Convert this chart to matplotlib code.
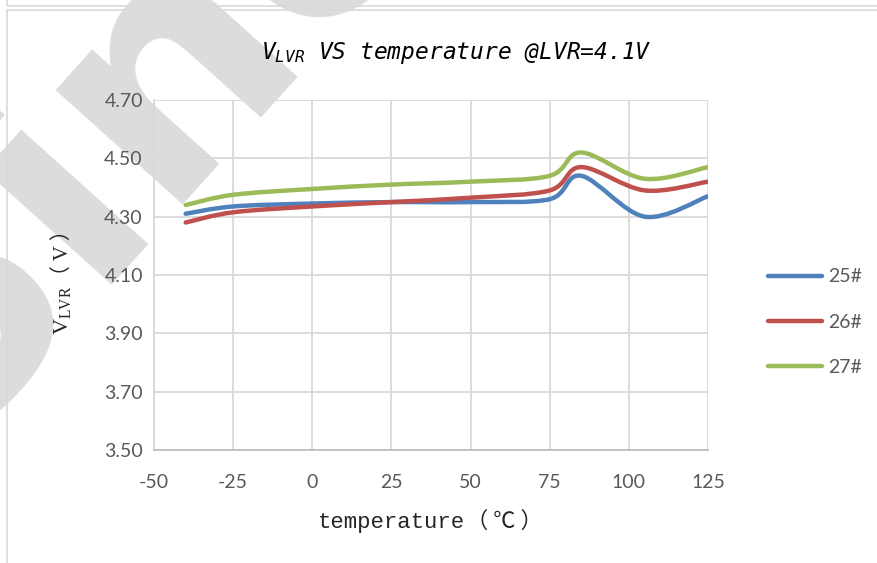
import matplotlib
matplotlib.use("Agg")
import matplotlib.pyplot as plt
from matplotlib.path import Path
from matplotlib.patches import PathPatch, Rectangle
from matplotlib.lines import Line2D

# data
temps = [-40, -25, 0, 25, 50, 75, 85, 105, 125]
v25 = [4.31, 4.335, 4.345, 4.35, 4.35, 4.36, 4.44, 4.30, 4.37]
v26 = [4.28, 4.315, 4.335, 4.35, 4.365, 4.39, 4.47, 4.39, 4.42]
v27 = [4.34, 4.375, 4.395, 4.41, 4.42, 4.44, 4.52, 4.43, 4.47]
names = ['25#', '26#', '27#']
colors = ['#4f81bd', '#c0504d', '#9bbb59']
xticks = [-50, -25, 0, 25, 50, 75, 100, 125]
yticks = [3.50, 3.70, 3.90, 4.10, 4.30, 4.50, 4.70]

plt.rcParams['mathtext.fontset'] = 'custom'
plt.rcParams['mathtext.it'] = 'DejaVu Sans Mono:oblique'
plt.rcParams['mathtext.rm'] = 'Liberation Serif'
plt.rcParams['axes.unicode_minus'] = False

TICK = '#595959'
GRID = '#d9d9d9'
LABEL = '#262626'


def smooth_path(x, y):
    # excel style smoothed line: catmull-rom segments as cubic beziers
    verts = [(x[0], y[0])]
    codes = [Path.MOVETO]
    n = len(x)
    for i in range(n - 1):
        x0, y0 = (x[i - 1], y[i - 1]) if i > 0 else (x[i], y[i])
        x3, y3 = (x[i + 2], y[i + 2]) if i + 2 < n else (x[i + 1], y[i + 1])
        c1 = (x[i] + (x[i + 1] - x0) / 6, y[i] + (y[i + 1] - y0) / 6)
        c2 = (x[i + 1] - (x3 - x[i]) / 6, y[i + 1] - (y3 - y[i]) / 6)
        verts += [c1, c2, (x[i + 1], y[i + 1])]
        codes += [Path.CURVE4] * 3
    return Path(verts, codes)


fig = plt.figure(figsize=(8.77, 5.63), dpi=100)
W, H = 877, 563

# watermark behind the chart
fig.text(130 / W, 1 - 110 / H, 'Sino', rotation=48, fontsize=225, fontweight='bold',
         family='DejaVu Sans', color='#dcdcdc', ha='center', va='center',
         zorder=-5)

# chart frames
fig.add_artist(Rectangle((7 / W, 1 - 6 / H), 1.0, 0.1, transform=fig.transFigure,
                         fill=False, ec=GRID, lw=1.2, zorder=-4))
fig.add_artist(Rectangle((7 / W, -0.1), 1.0, 1 - 10 / H + 0.1, transform=fig.transFigure,
                         fill=False, ec=GRID, lw=1.2, zorder=-4))

ax = fig.add_axes([154 / W, 1 - 450 / H, (708 - 154) / W, (450 - 100) / H])
ax.set_facecolor('none')

for vals, c in zip([v25, v26, v27], colors):
    ax.add_patch(PathPatch(smooth_path(temps, vals), fill=False, ec=c, lw=3.2,
                           capstyle='round', joinstyle='round', zorder=3))

ax.set_xlim(-50, 125)
ax.set_ylim(3.5, 4.7)
ax.set_xticks(xticks)
ax.set_yticks(yticks)
ax.set_yticklabels(['%.2f' % v for v in yticks])
ax.grid(True, color=GRID, lw=1.3)
ax.tick_params(length=0, colors=TICK, labelsize=14)
ax.tick_params(axis='x', pad=17)
ax.tick_params(axis='y', pad=8)
for lab in ax.get_xticklabels() + ax.get_yticklabels():
    lab.set_family('Lato')
for s in ['top', 'right']:
    ax.spines[s].set_visible(False)
ax.spines['left'].set_color(GRID)
ax.spines['bottom'].set_color('#bfbfbf')
ax.spines['left'].set_linewidth(1.3)
ax.spines['bottom'].set_linewidth(1.3)

fig.text(456 / W, 1 - 53 / H, r'$V_{LVR}$ VS temperature @LVR=4.1V',
         family='DejaVu Sans Mono', style='oblique', fontsize=16.5,
         ha='center', va='center')

# x label: latin part in a mono serif, brackets in a CJK font
fig.text(318 / W, 1 - 528 / H, 'temperature', family='Liberation Mono',
         fontsize=16, ha='left', va='baseline', color=LABEL)
fig.text(466 / W, 1 - 528 / H, '（ ℃ ）', family=['Noto Sans CJK SC'],
         fontsize=16, ha='left', va='baseline', color=LABEL)

# y label in two pieces so the full-width brackets get a CJK font
fig.text(68 / W, 1 - 286 / H, r'$\mathrm{V_{LVR}}$', fontsize=16,
         rotation=90, rotation_mode='anchor', ha='right', va='baseline',
         color=LABEL)
fig.text(68 / W, 1 - 286 / H, '（ V ）', family=['Liberation Serif', 'Noto Sans CJK SC'],
         fontsize=15, rotation=90, rotation_mode='anchor', ha='left', va='baseline',
         color=LABEL)

handles = [Line2D([], [], color=c, lw=3.2, solid_capstyle='round') for c in colors]
leg = fig.legend(handles, names, loc='center left',
                 bbox_to_anchor=(750 / W, 1 - 322 / H), frameon=False,
                 handlelength=2.8, labelspacing=1.45, handletextpad=0.3,
                 prop={'family': 'Lato', 'size': 14})
for t in leg.get_texts():
    t.set_color(TICK)

fig.savefig('out.png', dpi=100)
